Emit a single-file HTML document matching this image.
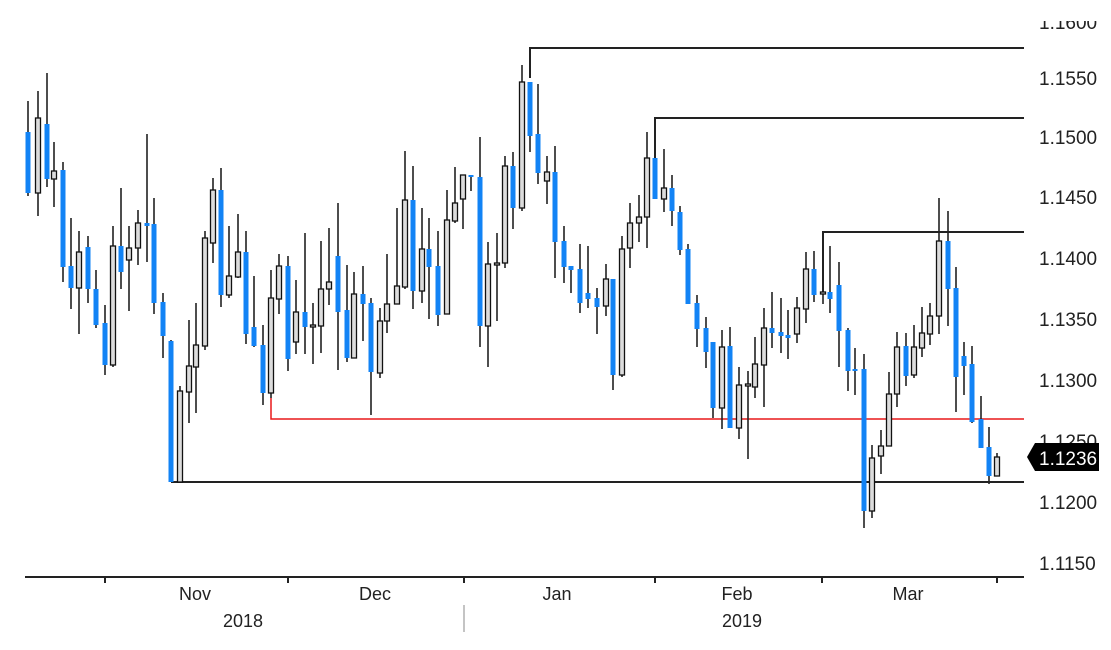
<!DOCTYPE html>
<html><head><meta charset="utf-8"><style>
html,body{margin:0;padding:0;background:#fff;width:1111px;height:650px;overflow:hidden}
svg{display:block}
text{font-family:"Liberation Sans",sans-serif}
</style></head><body>
<svg id="s" width="1111" height="650" xmlns="http://www.w3.org/2000/svg">
<g stroke="#222" stroke-width="2" fill="none">
<polyline points="530,78 530,48 1024,48"/>
<polyline points="655,158 655,118 1024,118"/>
<polyline points="823,293 823,232 1024,232"/>
<polyline points="171,482 1024,482"/>
<line x1="25" y1="577" x2="1024" y2="577"/>
<line x1="105" y1="577" x2="105" y2="583"/><line x1="288" y1="577" x2="288" y2="583"/>
<line x1="464" y1="577" x2="464" y2="583"/><line x1="655" y1="577" x2="655" y2="583"/>
<line x1="822" y1="577" x2="822" y2="583"/><line x1="997" y1="577" x2="997" y2="583"/>
</g>
<line x1="464" y1="605" x2="464" y2="632" stroke="#888" stroke-width="1"/>
<polyline points="271,398 271,419 1024,419" stroke="#e8191a" stroke-width="1.5" fill="none"/>
<g id="c"></g>
<g font-size="19" fill="#222">
<text x="1039" y="29">1.1600</text>
<text x="1039" y="85">1.1550</text>
<text x="1039" y="144">1.1500</text>
<text x="1039" y="204">1.1450</text>
<text x="1039" y="265">1.1400</text>
<text x="1039" y="326">1.1350</text>
<text x="1039" y="387">1.1300</text>
<text x="1039" y="448">1.1250</text>
<text x="1039" y="509">1.1200</text>
<text x="1039" y="570">1.1150</text>
</g>
<rect x="1030" y="0" width="81" height="21" fill="#fff"/>
<polygon points="1027,457 1035,443 1099,443 1099,471 1035,471" fill="#000"/>
<text x="1039" y="465" font-size="19" fill="#fff">1.1236</text>
<g font-size="18" fill="#222" text-anchor="middle">
<text x="195" y="600">Nov</text><text x="375" y="600">Dec</text><text x="557" y="600">Jan</text>
<text x="737" y="600">Feb</text><text x="908" y="600">Mar</text>
<text x="243" y="627">2018</text><text x="742" y="627">2019</text>
</g>
</svg>
<script>
var d=[
[28,132,193,101,196,1],[38,118,193,91,216,0],[47,124,179,73,187,1],[54,171,179,142,207,0],[63,170,267,162,282,1],
[71,266,288,218,309,1],[79,252,288,231,334,0],[88,247,289,236,303,1],[96,289,325,270,328,1],[105,323,365,305,375,1],
[113,246,365,226,367,0],[121,246,272,188,289,1],[129,248,260,226,311,0],[138,223,248,210,265,0],[147,223,226,134,262,1],
[154,224,303,198,314,1],[163,302,336,293,358,1],[171,341,482,340,482,1],[180,391,482,386,482,0],[189,366,392,320,423,0],
[196,345,367,303,413,0],[205,238,346,231,350,0],[213,190,243,178,263,0],[221,190,295,168,307,1],[229,276,295,226,298,0],
[238,252,277,214,278,0],[246,252,334,231,344,1],[254,327,346,276,347,1],[263,345,393,325,405,1],[271,298,393,270,398,0],
[279,266,299,254,314,0],[288,266,359,256,371,1],[296,312,342,280,354,0],[305,312,327,233,354,1],[313,325,327,303,364,0],
[321,289,326,241,353,0],[329,282,289,228,305,0],[338,256,312,203,370,1],[347,310,358,265,362,1],
[354,294,358,272,358,0],[363,294,304,266,341,1],[371,303,372,298,415,1],[380,321,373,308,378,0],[387,304,321,254,333,0],
[397,286,304,208,304,0],[405,200,287,151,289,0],[413,200,291,166,309,1],[422,249,291,208,303,0],[429,249,267,218,319,1],
[438,266,315,231,326,1],[447,220,314,190,314,0],[455,203,221,167,223,0],[463,175,199,175,229,0],[471,175,177,175,191,1],
[480,177,326,137,347,1],[488,264,326,242,367,0],[497,263,265,233,321,0],[505,166,263,156,268,0],[513,166,208,152,229,1],
[522,82,208,65,211,0],[530,82,136,82,152,1],[538,134,173,84,184,1],[547,172,181,156,204,0],[555,172,242,146,278,1],
[564,241,267,226,283,1],[571,266,270,266,293,1],[580,269,303,244,313,1],[588,293,299,246,308,1],[597,298,307,288,334,1],
[606,279,306,264,316,0],[613,279,375,279,390,1],[622,249,375,236,377,0],[630,223,248,203,268,0],[639,217,223,195,242,0],
[647,158,217,132,248,0],[655,158,199,158,199,1],[664,188,199,149,212,0],[672,188,211,175,226,1],[680,212,250,206,255,1],
[688,249,304,244,304,1],[697,303,329,295,347,1],[706,328,352,317,368,1],[713,342,408,342,418,1],[722,347,408,330,429,0],
[730,346,428,327,428,1],[739,385,428,367,439,0],[748,384,386,371,459,0],[755,364,387,337,398,0],[764,328,365,308,407,0],
[772,328,333,292,348,1],[781,332,336,298,353,1],[788,335,338,310,359,1],[797,308,334,297,343,0],[806,269,309,252,323,0],
[814,269,295,251,302,1],[823,292,294,285,304,0],[830,292,299,246,313,1],[839,285,331,262,367,1],[848,330,371,328,391,1],
[855,369,371,348,395,1],[864,369,511,354,528,1],[872,458,511,445,518,0],[881,446,456,430,474,0],[889,394,446,372,446,0],
[897,347,394,332,407,0],[906,346,376,333,386,1],[914,347,375,325,378,0],[922,333,348,307,357,0],[930,316,334,303,345,0],
[939,241,316,198,334,0],[948,241,289,211,326,1],[956,288,377,267,412,1],[964,356,366,342,395,1],[972,364,422,346,423,1],
[981,419,448,396,448,1],[989,447,476,427,484,1],[997,457,476,453,476,0]
];
var h='';
d.forEach(function(c){
 var x=c[0],bt=c[1],bb=c[2],wt=c[3],wb=c[4],t=c[5];
 h+='<line x1="'+x+'" y1="'+wt+'" x2="'+x+'" y2="'+wb+'" stroke="#222" stroke-width="1.6"/>';
 var hh=Math.max(bb-bt,2);
 if(t) h+='<rect x="'+(x-2.5)+'" y="'+bt+'" width="5" height="'+hh+'" fill="#1283f5"/>';
 else h+='<rect x="'+(x-2.5)+'" y="'+bt+'" width="5" height="'+hh+'" fill="#dcdcdc" stroke="#111" stroke-width="1.3"/>';
});
document.getElementById('c').innerHTML=h;
</script>
</body></html>
